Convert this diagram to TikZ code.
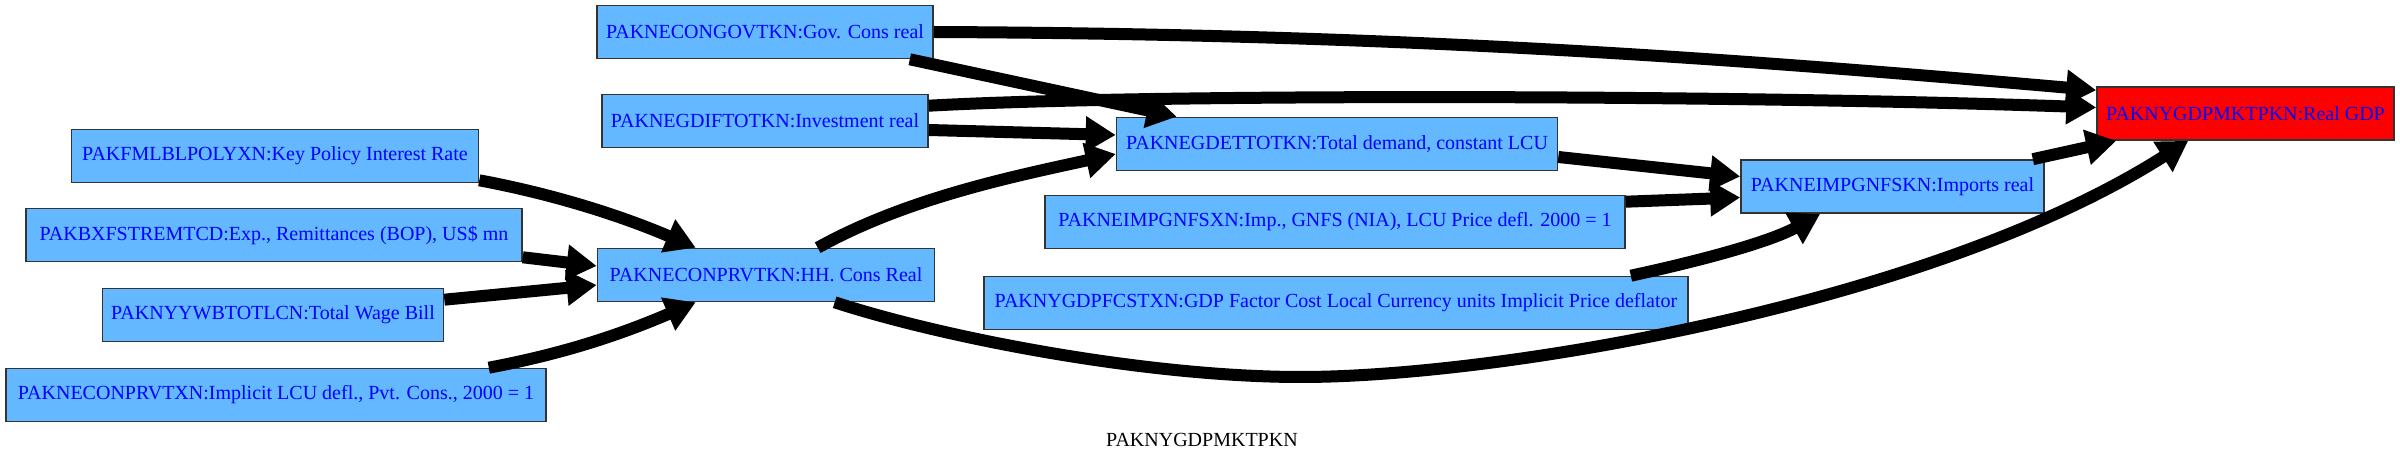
\documentclass[tikz,border=0pt]{standalone}
\usepackage{fontspec}
\setmainfont{Liberation Serif}
\usetikzlibrary{arrows.meta,calc}
\definecolor{nodeblue}{HTML}{63B8FF}
\definecolor{txtblue}{RGB}{0,0,255}
\begin{document}
\begin{tikzpicture}[x=0.5pt,y=-0.5pt,
  box/.style={draw=black!80,line width=0.8pt,fill=nodeblue,text=txtblue,minimum height=26.5pt,inner sep=0pt,font=\fontsize{10}{12}\selectfont},
  edge/.style={line width=6pt,-{Triangle[length=15pt,width=17pt]}}]
\useasboundingbox[fill=white] (0,0) rectangle (2400,464);
\node[box,minimum width=168pt] (gov) at (765,32) {PAKNECONGOVTKN:Gov. Cons real};
\node[box,minimum width=163pt] (gdif) at (765,121) {PAKNEGDIFTOTKN:Investment real};
\node[box,minimum width=203.5pt] (kp) at (275,156) {PAKFMLBLPOLYXN:Key Policy Interest Rate};
\node[box,minimum width=248pt] (bx) at (274,235) {PAKBXFSTREMTCD:Exp., Remittances (BOP), US\$ mn};
\node[box,minimum width=170.5pt] (wage) at (273,315) {PAKNYYWBTOTLCN:Total Wage Bill};
\node[box,minimum width=270pt] (xn) at (276,395) {PAKNECONPRVTXN:Implicit LCU defl., Pvt. Cons., 2000 = 1};
\node[box,minimum width=168.5pt] (hh) at (766,275) {PAKNECONPRVTKN:HH. Cons Real};
\node[box,minimum width=220.5pt] (gdet) at (1337,144) {PAKNEGDETTOTKN:Total demand, constant LCU};
\node[box,minimum width=290pt] (impx) at (1335,222) {PAKNEIMPGNFSXN:Imp., GNFS (NIA), LCU Price defl. 2000 = 1};
\node[box,minimum width=352pt] (fc) at (1336,303) {PAKNYGDPFCSTXN:GDP Factor Cost Local Currency units Implicit Price deflator};
\node[box,minimum width=151.5pt] (impk) at (1892.5,186.5) {PAKNEIMPGNFSKN:Imports real};
\node[box,minimum width=148.5pt,fill=red] (gdp) at (2245.5,113.5) {PAKNYGDPMKTPKN:Real GDP};
\node[font=\fontsize{10}{12}\selectfont] (title) at (1202,440) {PAKNYGDPMKTPKN};
\coordinate (bend) at (1301,377);
\draw[edge] (gov.east) .. controls +(450,2) and +(-400,-35) .. ($(gdp.north west)+(0,4)$);
\draw[edge] ($(gov.south east)+(-24,0)$) -- ($(gdet.north west)+(61,0)$);
\draw[edge] ($(gdif.north east)+(0,12)$) .. controls +(218,-12) and +(-375,-13) .. ($(gdp.west)+(0,-6)$);
\draw[edge] ($(gdif.east)+(0,9)$) -- ($(gdet.west)+(0,-9)$);
\draw[edge] ($(kp.south east)+(0,-3)$) .. controls +(80,15) and +(-70,-30) .. ($(hh.north west)+(99,0)$);
\draw[edge] ($(bx.south east)+(0,-5)$) -- ($(hh.west)+(0,-9)$);
\draw[edge] ($(wage.north east)+(0,12)$) -- ($(hh.west)+(0,10)$);
\draw[edge] ($(xn.north east)+(-58,0)$) .. controls +(80,-15) and +(-70,30) .. ($(hh.south west)+(99,0)$);
\draw[edge] ($(hh.north west)+(221,0)$) .. controls +(90,-50) and +(-100,22) .. ($(gdet.west)+(0,10)$);
\draw[edge] ($(hh.south west)+(238,0)$) .. controls +(114,37) and +(-151,0) .. (bend) .. controls +(199,0) and +(-254,162) .. ($(gdp.south west)+(92,0)$);
\draw[edge] ($(gdet.east)+(0,13)$) -- ($(impk.west)+(0,-10)$);
\draw[edge] ($(impx.north east)+(0,7)$) -- ($(impk.west)+(0,11)$);
\draw[edge] ($(fc.north east)+(-58,0)$) .. controls +(70,-15) and +(-50,28) .. ($(impk.south west)+(80,0)$);
\draw[edge] ($(impk.north east)+(-12,0)$) -- ($(gdp.south west)+(20,0)$);
\end{tikzpicture}
\end{document}
